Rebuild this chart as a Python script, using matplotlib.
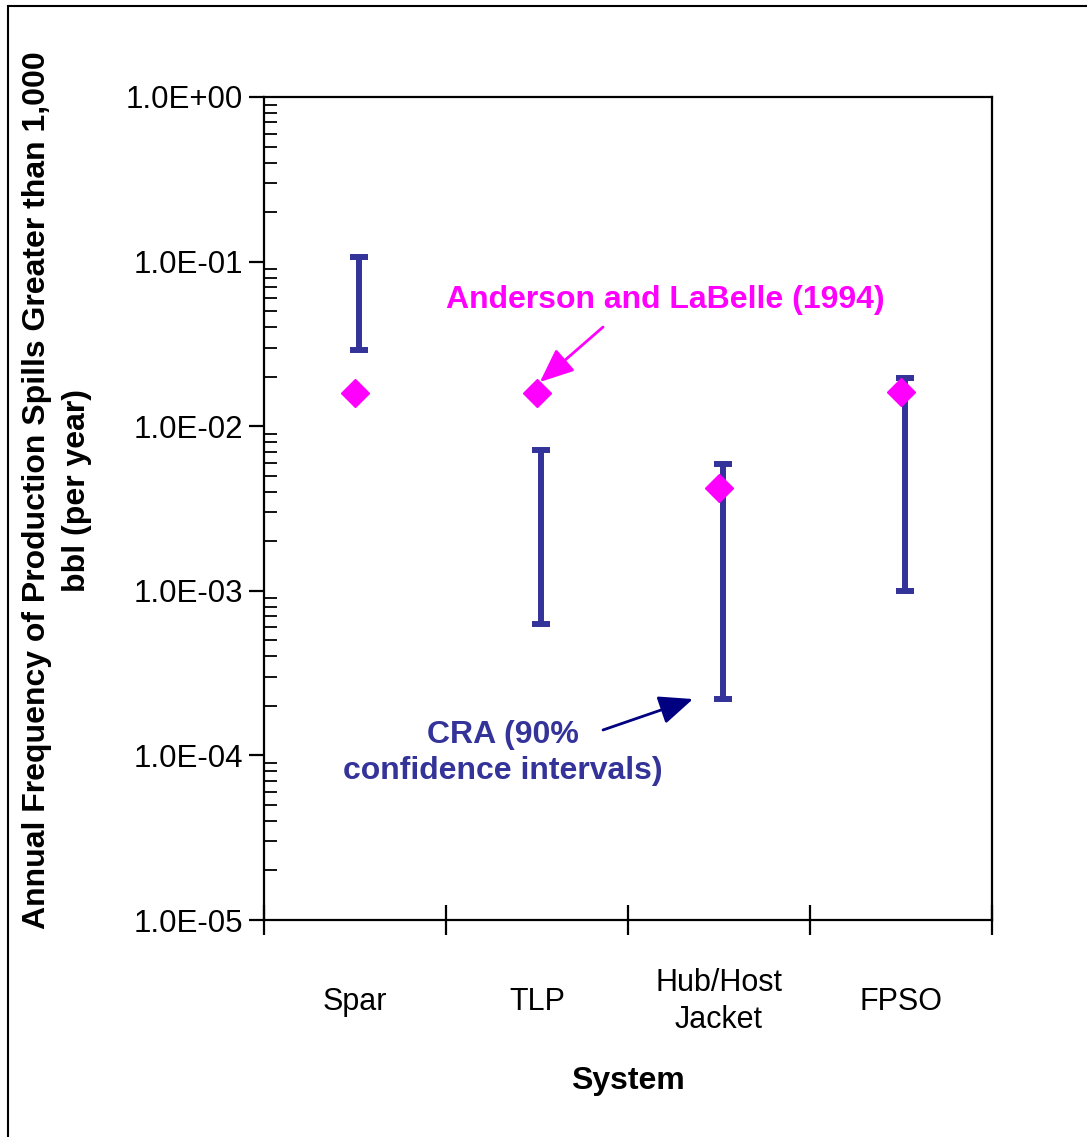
import numpy as np
import matplotlib.pyplot as plt
from matplotlib.patches import Rectangle
from matplotlib.ticker import LogLocator, FuncFormatter, FixedLocator, NullFormatter

plt.rcParams['font.family'] = ['Liberation Sans', 'DejaVu Sans']

# data
systems = ["Spar", "TLP", "Hub/Host\nJacket", "FPSO"]
cra_low = [2.9e-2, 6.3e-4, 2.2e-4, 1.0e-3]
cra_high = [1.07e-1, 7.2e-3, 5.9e-3, 1.95e-2]
anderson = [1.59e-2, 1.59e-2, 4.2e-3, 1.62e-2]

navy = "#333399"
pink = "#FF00FF"

fig = plt.figure(figsize=(10.87, 11.37), dpi=100)
ax = fig.add_axes([264 / 1087, 1 - 920 / 1137, 728 / 1087, 823 / 1137])

x = np.arange(1, len(systems) + 1)
low = np.array(cra_low)
high = np.array(cra_high)
mid = np.sqrt(low * high)

# CRA confidence intervals (drawn as error bars, slightly right of the points)
eb = ax.errorbar(x + 0.02, mid, yerr=[mid - low, high - mid], fmt="none",
                 ecolor=navy, elinewidth=4.3, capsize=6.5, capthick=4.3, zorder=2)
for lc in eb[2]:
    lc.set_capstyle("round")

# Anderson and LaBelle points
ax.plot(x, anderson, ls="none", marker="D", ms=14.5, color=pink, mec=pink, zorder=3)

ax.set_yscale("log")
ax.set_ylim(1e-5, 1e0)
ax.set_xlim(0.5, 4.5)

ax.yaxis.set_major_locator(LogLocator(base=10, numticks=10))
ax.yaxis.set_minor_locator(LogLocator(base=10, subs=np.arange(2, 10), numticks=10))
ax.yaxis.set_major_formatter(FuncFormatter(lambda v, p: f"{v:.1E}"))
ax.yaxis.set_minor_formatter(NullFormatter())
ax.tick_params(axis="y", which="major", direction="out", length=11, width=1.6,
               labelsize=22.5, pad=4)
ax.tick_params(axis="y", which="minor", direction="in", length=9, width=1.3)

# category boundaries get ticks, labels sit between them
ax.xaxis.set_major_locator(FixedLocator(np.arange(0.5, len(systems) + 1, 1.0)))
ax.xaxis.set_major_formatter(NullFormatter())
ax.xaxis.set_minor_locator(FixedLocator(x))
ax.set_xticklabels(systems, minor=True)
ax.tick_params(axis="x", which="major", direction="inout", length=21, width=1.6)
ax.tick_params(axis="x", which="minor", length=0, labelsize=22, pad=59)
for lab in ax.get_xticklabels(minor=True):
    lab.set_verticalalignment("center")
    lab.set_linespacing(1.3)

for s in ax.spines.values():
    s.set_linewidth(1.6)

ax.set_xlabel("System", fontsize=23, fontweight="bold", va="center")
ax.xaxis.set_label_coords(0.5, -0.196)

fig.text(57 / 1087, 1 - 490 / 1137,
         "Annual Frequency of Production Spills Greater than 1,000\nbbl (per year)",
         rotation=90, ha="center", va="center", multialignment="center",
         fontsize=23, fontweight="bold", linespacing=1.45)

# annotations
ax.text(0.551, 0.7533, "Anderson and LaBelle (1994)", transform=ax.transAxes,
        ha="center", va="center", color=pink, fontsize=23, fontweight="bold")
ax.annotate("", xy=(0.379, 0.6537), xytext=(0.4657, 0.7205), xycoords="axes fraction",
            arrowprops=dict(arrowstyle="-|>,head_length=0.4,head_width=0.17",
                            mutation_scale=52, color=pink, lw=2,
                            shrinkA=0, shrinkB=0))

ax.text(0.3283, 0.2029, "CRA (90%\nconfidence intervals)", transform=ax.transAxes,
        ha="center", va="center", multialignment="center", color=navy,
        fontsize=23, fontweight="bold", linespacing=1.25)
ax.annotate("", xy=(0.5893, 0.2685), xytext=(0.4657, 0.2309), xycoords="axes fraction",
            arrowprops=dict(arrowstyle="-|>,head_length=0.4,head_width=0.17",
                            mutation_scale=52, color="#000080", lw=2,
                            shrinkA=0, shrinkB=0))

# outer border of the chart area
fig.patches.append(Rectangle((7.5 / 1087, -0.1), 2, 1 - 5.5 / 1137 + 0.1,
                             transform=fig.transFigure, fill=False,
                             lw=1.5, ec="black"))

fig.savefig("out.png", dpi=100)
